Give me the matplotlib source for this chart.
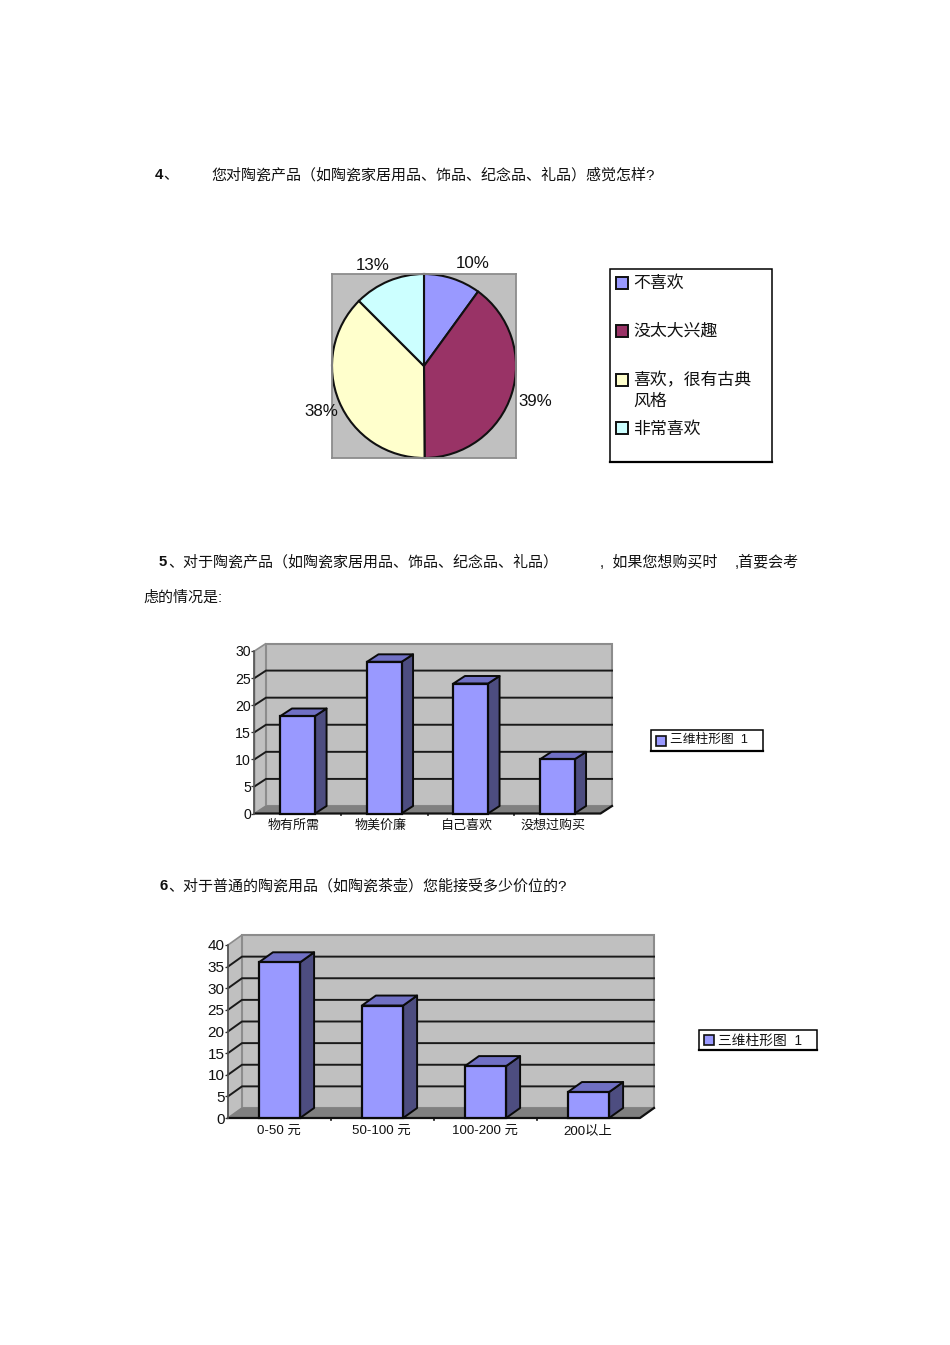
import matplotlib
matplotlib.use("Agg")
import matplotlib.pyplot as plt
from matplotlib.patches import Polygon, Rectangle
from matplotlib.transforms import ScaledTranslation

plt.rcParams['font.family'] = ['Liberation Sans', 'Noto Sans CJK SC', 'DejaVu Sans']

W, H = 950, 1345

pie_labels = ['不喜欢', '没太大兴趣', '喜欢，很有古典\n风格', '非常喜欢']
pie_values = [10.0, 39.9, 37.6, 12.5]
pie_colors = ['#9999FF', '#993366', '#FFFFCC', '#CCFFFF']
pie_texts = ['10%', '39%', '38%', '13%']

cats5 = ['物有所需', '物美价廉', '自己喜欢', '没想过购买']
vals5 = [18, 28, 24, 10]
ticks5 = [0, 5, 10, 15, 20, 25, 30]

cats6 = ['0-50 元', '50-100 元', '100-200 元', '200以上']
vals6 = [36, 26, 12, 6]
ticks6 = [0, 5, 10, 15, 20, 25, 30, 35, 40]

series_name = '三维柱形图  1'

FRONT = '#9999FF'
SIDE = '#4D4D80'
TOP = '#7070C4'
WALL = '#C0C0C0'
FLOOR = '#808080'
GRAY = '#8C8C8C'
DARK = '#1A1A1A'

fig = plt.figure(figsize=(W / 100, H / 100), dpi=100, facecolor='white')


def px_axes(left, top, right, bottom, **kw):
    return fig.add_axes([left / W, 1 - bottom / H, (right - left) / W, (bottom - top) / H], **kw)


# page overlay in pixel coordinates
page = fig.add_axes([0, 0, 1, 1], zorder=5)
page.set_xlim(0, W)
page.set_ylim(H, 0)
page.axis('off')


def body(x, y, s, bold=False, size=10.8):
    page.text(x, y, s, fontsize=size, va='center', ha='left', color='#111111',
              fontweight='bold' if bold else 'normal')


body(155, 175, '4', True)
body(163, 175, '、')
body(211, 175, '您对陶瓷产品（如陶瓷家居用品、饰品、纪念品、礼品）感觉怎样?')
body(159, 562, '5', True)
body(168, 562, '、对于陶瓷产品（如陶瓷家居用品、饰品、纪念品、礼品）')
body(600, 562, ',  如果您想购买时')
body(735, 562, ',首要会考')
body(143, 598, '虑的情况是:')
body(159, 886, '6', True)
body(168, 886, '、对于普通的陶瓷用品（如陶瓷茶壶）您能接受多少价位的?')

# pie
ax = px_axes(331.5, 274, 516.5, 458)
ax.set_facecolor(WALL)
wedges, _ = ax.pie(pie_values, colors=pie_colors, startangle=90, counterclock=False, radius=1.0,
                   wedgeprops=dict(edgecolor='#111111', linewidth=1.5), frame=True)
for wd in wedges:
    wd.set_clip_on(False)
ax.set_xlim(-1, 1)
ax.set_ylim(-1, 1)
ax.set_xticks([])
ax.set_yticks([])
for s in ax.spines.values():
    s.set_color(GRAY)
    s.set_linewidth(1.3)
for txt, (x, y) in zip(pie_texts, [(473, 263), (535, 401), (321, 411), (373, 265)]):
    page.text(x, y, txt, fontsize=12.2, ha='center', va='center', color='#111111')

# pie legend
page.add_patch(Rectangle((609.5, 268.5), 162.5, 193, fc='white', ec='black', lw=1.1))
page.plot([609.5, 772], [462, 462], color='black', lw=1.6)
for (sy, ty), lab, col in zip([(283, 283), (331, 331), (380, 390.5), (428, 429)], pie_labels, pie_colors):
    page.add_patch(Rectangle((616, sy - 6), 12, 12, fc=col, ec='#111111', lw=1.4))
    page.text(633, ty, lab, fontsize=12.2, va='center', ha='left', color='#111111', linespacing=1.4)


def bar3d(rect, vals, cats, ticks, depth_px, tick_size, cat_size, label_shift, cat_pad):
    left, top, right, bottom = rect
    ymax = ticks[-1]
    ax = px_axes(left, top, right, bottom)
    n = len(vals)
    ax.set_xlim(0, n)
    ax.set_ylim(0, ymax)
    ax.patch.set_visible(False)
    dx = depth_px[0] / ((right - left) / n)
    dy = depth_px[1] / ((bottom - top) / ymax)
    # walls and floor
    ax.add_patch(Polygon([(0, 0), (dx, dy), (dx, ymax + dy), (0, ymax)], fc=WALL, ec=GRAY, lw=1.2,
                         clip_on=False, zorder=1))
    ax.add_patch(Rectangle((dx, dy), n, ymax, fc=WALL, ec=GRAY, lw=1.5, clip_on=False, zorder=1))
    ax.add_patch(Polygon([(0, 0), (n, 0), (n + dx, dy), (dx, dy)], fc=FLOOR, ec=FLOOR, lw=0.8,
                         clip_on=False, zorder=2))
    for t in ticks[1:-1]:
        ax.plot([0, dx, n + dx], [t, t + dy, t + dy], color=DARK, lw=1.4, clip_on=False, zorder=2,
                solid_joinstyle='miter')
    # floor right/bottom edges
    ax.plot([0, n, n + dx], [0, 0, dy], color='#111111', lw=1.6, clip_on=False, zorder=3)
    ax.plot([0, 0], [0, ymax], color='#555555', lw=1.2, clip_on=False, zorder=3)
    # bars
    w = 0.4
    xs = [i + 0.5 for i in range(n)]
    for i, (xc, v) in enumerate(zip(xs, vals)):
        x0, x1 = xc - w / 2, xc + w / 2
        z = 4 + i
        ax.add_patch(Polygon([(x1, 0), (x1 + dx, dy), (x1 + dx, v + dy), (x1, v)], fc=SIDE, ec='#0A0A0A',
                             lw=1.4, clip_on=False, zorder=z, joinstyle='round'))
        ax.add_patch(Polygon([(x0, v), (x1, v), (x1 + dx, v + dy), (x0 + dx, v + dy)], fc=TOP, ec='#0A0A0A',
                             lw=1.4, clip_on=False, zorder=z, joinstyle='round'))
        ax.bar(xc, v, width=w, color=FRONT, edgecolor='#0A0A0A', linewidth=1.6, zorder=z + 0.5, clip_on=False)
    for s in ax.spines.values():
        s.set_visible(False)
    ax.set_yticks(ticks)
    ax.set_yticklabels([str(t) for t in ticks], fontsize=tick_size, color='#111111')
    ax.tick_params(axis='y', length=2, width=0.9, color='#333333', pad=0.5)
    ax.set_xticks(xs)
    ax.set_xticklabels(cats, fontsize=cat_size, color='#111111', va='baseline')
    ax.tick_params(axis='x', length=0, pad=cat_pad)
    shift = ScaledTranslation(label_shift / 100, 0, fig.dpi_scale_trans)
    for lb in ax.get_xticklabels():
        lb.set_transform(lb.get_transform() + shift)
    for i in range(1, n):
        ax.plot([i, i], [0, -ymax * 0.012], color='#111111', lw=1.2, clip_on=False, zorder=3)
    return ax


bar3d((254.5, 651, 600.5, 813.5), vals5, cats5, ticks5, (11.5, 7.5), 10.2, 9.4, -4, 11.2)
bar3d((228, 945, 640, 1118), vals6, cats6, ticks6, (14, 10), 11, 9.6, -1, 11.6)

# bar legends
page.add_patch(Rectangle((651, 729.5), 112, 21, fc='white', ec='black', lw=1.1))
page.plot([651, 763], [751, 751], color='black', lw=1.6)
page.add_patch(Rectangle((656, 735.5), 10, 10, fc=FRONT, ec='#111111', lw=1.2))
page.text(670, 740, series_name, fontsize=9.2, va='center', ha='left', color='#111111')

page.add_patch(Rectangle((698.5, 1030), 118, 19.5, fc='white', ec='black', lw=1.1))
page.plot([698.5, 816.5], [1050, 1050], color='black', lw=1.6)
page.add_patch(Rectangle((704, 1034.5), 10, 10, fc=FRONT, ec='#111111', lw=1.2))
page.text(718, 1041, series_name, fontsize=9.9, va='center', ha='left', color='#111111')

fig.savefig('out.png', dpi=100, facecolor='white')
